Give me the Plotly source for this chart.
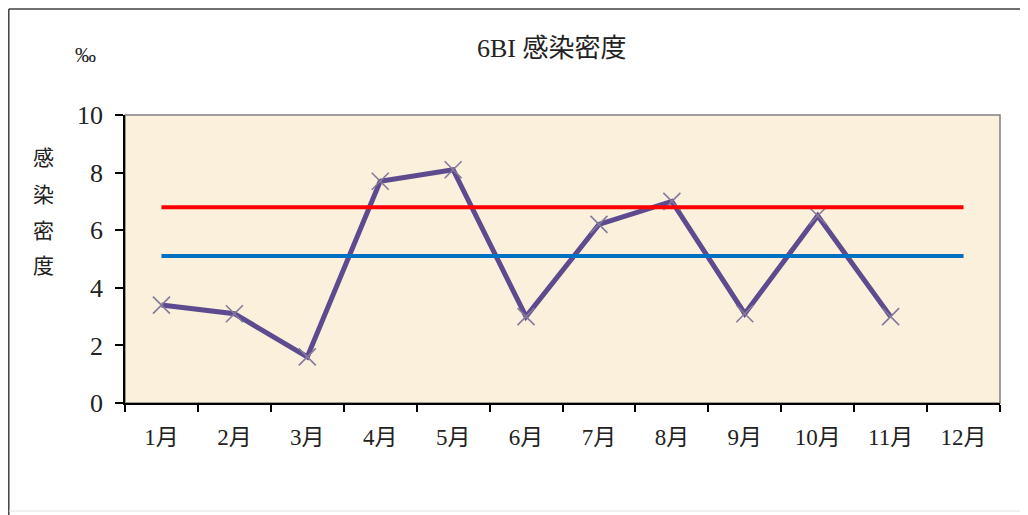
import plotly.graph_objects as go

# ---- data ----
months = ["1月", "2月", "3月", "4月", "5月", "6月", "7月", "8月", "9月", "10月", "11月", "12月"]
density = [3.4, 3.1, 1.6, 7.7, 8.1, 3.0, 6.2, 7.0, 3.1, 6.5, 3.0, None]
upper_line = [6.8] * 12
mean_line = [5.1] * 12
y_ticks = [0, 2, 4, 6, 8, 10]

title_text = "6BI 感染密度"
unit_text = "‰"
ytitle_chars = ["感", "染", "密", "度"]

# ---- layout geometry (page body has an 8px margin) ----
OFF = 8
W, H = 1028 - OFF, 515 - OFF
ML, MR, MT, MB = 125 - OFF, 28, 115 - OFF, 112
PW, PH = W - ML - MR, H - MT - MB


def px(x):
    # x in screen pixels of the window
    return (x - OFF - ML) / PW


def py(y):
    return (H - MB - (y - OFF)) / PH


FONT = "Liberation Serif, Noto Sans CJK JP, serif"

fig = go.Figure()

fig.add_trace(go.Scatter(
    x=months, y=density, mode="lines+markers",
    line=dict(color="#5E4A8E", width=5),
    marker=dict(symbol="x-thin", size=17, line=dict(color="#857A9C", width=1.6)),
    connectgaps=False, showlegend=False, hoverinfo="x+y",
))
fig.add_trace(go.Scatter(
    x=months, y=upper_line, mode="lines",
    line=dict(color="#FF0000", width=4), showlegend=False,
))
fig.add_trace(go.Scatter(
    x=months, y=mean_line, mode="lines",
    line=dict(color="#0070C0", width=4), showlegend=False,
))

shapes = []
# chart area border
shapes.append(dict(type="line", xref="paper", yref="paper",
                   x0=px(8.8), x1=px(1030), y0=py(9), y1=py(9),
                   line=dict(color="#404040", width=1.5)))
shapes.append(dict(type="line", xref="paper", yref="paper",
                   x0=px(8.8), x1=px(8.8), y0=py(9), y1=py(516),
                   line=dict(color="#404040", width=1.5)))
shapes.append(dict(type="line", xref="paper", yref="paper",
                   x0=px(8.8), x1=px(1030), y0=py(511), y1=py(511),
                   line=dict(color="#E2E2E2", width=1)))
# plot area border (top/right gray)
shapes.append(dict(type="rect", xref="paper", yref="paper",
                   x0=0, x1=1, y0=0, y1=1, layer="below",
                   line=dict(color="#808080", width=1.5)))

annotations = [
    dict(text=title_text, xref="paper", yref="paper", x=px(552), y=py(48),
         showarrow=False, xanchor="center", yanchor="middle",
         font=dict(family=FONT, size=26, color="#222222")),
    dict(text=unit_text, xref="paper", yref="paper", x=px(85), y=py(55),
         showarrow=False, xanchor="center", yanchor="middle",
         font=dict(family=FONT, size=21, color="#222222")),
]
for ch, cy in zip(ytitle_chars, [158, 195, 231, 266]):
    annotations.append(dict(text=ch, xref="paper", yref="paper", x=px(43), y=py(cy),
                            showarrow=False, xanchor="center", yanchor="middle",
                            font=dict(family=FONT, size=21, color="#222222")))

fig.update_layout(
    width=W, height=H,
    margin=dict(l=ML, r=MR, t=MT, b=MB, pad=0),
    paper_bgcolor="white",
    plot_bgcolor="#FAF0DB",
    shapes=shapes,
    annotations=annotations,
    showlegend=False,
    xaxis=dict(
        type="category", categoryorder="array", categoryarray=months,
        range=[-0.5, 11.5], tickson="boundaries",
        ticks="outside", ticklen=7, tickwidth=1.5, tickcolor="#000000",
        showline=True, linecolor="#000000", linewidth=1.5,
        showgrid=False, zeroline=False,
        tickfont=dict(family=FONT, size=23, color="#222222"),
        ticklabelstandoff=13,
    ),
    yaxis=dict(
        range=[0, 10], tickvals=y_ticks, ticktext=[str(v) for v in y_ticks],
        ticks="outside", ticklen=8, tickwidth=1.5, tickcolor="#000000",
        showline=True, linecolor="#000000", linewidth=1.5,
        showgrid=False, zeroline=False,
        tickfont=dict(family=FONT, size=26, color="#222222"),
        ticklabelstandoff=7,
    ),
)

fig.write_html("out.html")
